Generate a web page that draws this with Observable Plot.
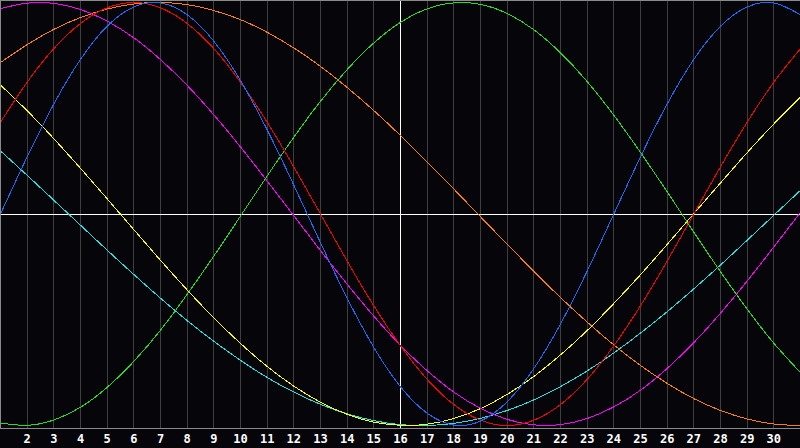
<!DOCTYPE html>
<html>
<head>
<meta charset="utf-8">
<script src="https://cdn.jsdelivr.net/npm/d3@7"></script>
<script src="https://cdn.jsdelivr.net/npm/@observablehq/plot@0.6"></script>
<style>
  html, body { margin: 0; padding: 0; background: #060509; }
  svg { display: block; }
</style>
</head>
<body>
<div id="chart"></div>
<script>
const days = d3.range(1, 32);
const tickDays = d3.range(2, 31);
const today = 16;

const physical = [0, 0.270, 0.520, 0.731, 0.888, 0.979, 0.998, 0.942, 0.817, 0.631, 0.398, 0.136, -0.136, -0.398, -0.631, -0.817, -0.942, -0.998, -0.979, -0.888, -0.731, -0.520, -0.270, 0, 0.270, 0.520, 0.731, 0.888, 0.979, 0.998, 0.942];
const emotional = [0.434, 0.623, 0.782, 0.901, 0.975, 1, 0.975, 0.901, 0.782, 0.623, 0.434, 0.223, 0, -0.223, -0.434, -0.623, -0.782, -0.901, -0.975, -1, -0.975, -0.901, -0.782, -0.623, -0.434, -0.223, 0, 0.223, 0.434, 0.623, 0.782];
const intellectual = [-0.988, -0.999, -0.974, -0.914, -0.820, -0.697, -0.549, -0.380, -0.199, -0.010, 0.180, 0.363, 0.533, 0.683, 0.809, 0.906, 0.970, 0.998, 0.991, 0.948, 0.871, 0.762, 0.626, 0.467, 0.291, 0.105, -0.086, -0.273, -0.450, -0.611, -0.750];
const intuitive = [0.610, 0.488, 0.356, 0.216, 0.072, -0.074, -0.219, -0.359, -0.491, -0.612, -0.721, -0.814, -0.890, -0.947, -0.984, -0.999, -0.994, -0.967, -0.920, -0.853, -0.768, -0.666, -0.551, -0.423, -0.287, -0.144, 0.002, 0.147, 0.290, 0.426, 0.553];
const spiritual = [0.298, 0.183, 0.065, -0.053, -0.171, -0.286, -0.398, -0.504, -0.602, -0.692, -0.773, -0.842, -0.900, -0.945, -0.977, -0.996, -1.000, -0.990, -0.966, -0.929, -0.879, -0.816, -0.742, -0.657, -0.563, -0.462, -0.354, -0.241, -0.124, -0.006, 0.112];
const awareness = [0.971, 0.997, 0.996, 0.967, 0.912, 0.833, 0.730, 0.608, 0.469, 0.317, 0.156, -0.008, -0.173, -0.332, -0.483, -0.621, -0.741, -0.842, -0.919, -0.971, -0.997, -0.996, -0.967, -0.912, -0.833, -0.730, -0.608, -0.469, -0.317, -0.156, 0.008];
const aesthetic = [0.716, 0.801, 0.873, 0.929, 0.969, 0.993, 1.000, 0.990, 0.962, 0.919, 0.859, 0.785, 0.698, 0.598, 0.489, 0.371, 0.246, 0.118, -0.013, -0.143, -0.271, -0.395, -0.511, -0.619, -0.716, -0.801, -0.873, -0.929, -0.969, -0.993, -1.000];

const seriesNames = ["aesthetic", "spiritual", "intuitive", "awareness", "intellectual", "emotional", "physical"];
const seriesValues = [aesthetic, spiritual, intuitive, awareness, intellectual, emotional, physical];
const seriesColors = ["#ff8000", "#1ee6e6", "#ffff00", "#ff00ff", "#22e022", "#ff0000", "#1a6cff"];

const rows = [];
seriesNames.forEach((name, i) => {
  days.forEach((d, j) => rows.push({series: name, day: d, value: seriesValues[i][j]}));
});

const grid = "#3e3e3e";

const chart = Plot.plot({
  width: 800,
  height: 448,
  marginLeft: 0,
  marginRight: 0,
  marginTop: 2,
  marginBottom: 23,
  style: {background: "#060509", color: "white", fontFamily: "DejaVu Sans Mono", fontSize: "12px", fontWeight: "bold"},
  x: {domain: [1, 31], axis: null, label: null},
  y: {domain: [-1, 1], axis: null},
  color: {domain: seriesNames, range: seriesColors},
  marks: [
    Plot.ruleX(tickDays, {stroke: grid, strokeWidth: 1, insetTop: -2, insetBottom: -3, shapeRendering: "crispEdges"}),
    Plot.ruleY([0], {stroke: "white", strokeWidth: 1, shapeRendering: "crispEdges"}),
    Plot.ruleX([today], {stroke: "white", strokeWidth: 1.5, insetTop: -2, insetBottom: -3, shapeRendering: "crispEdges"}),
    Plot.line(rows, {x: "day", y: "value", z: "series", stroke: "series", strokeWidth: 1, curve: "natural", shapeRendering: "crispEdges"}),
    Plot.frame({stroke: "#8a8a8a", insetTop: -2, insetBottom: -3, shapeRendering: "crispEdges"}),
    Plot.axisX(tickDays, {label: null, tickSize: 0, tickPadding: 9, fill: "white", fontWeight: "bold", fontSize: 12, fontFamily: "DejaVu Sans Mono", tickFormat: d => String(d)})
  ]
});

document.getElementById("chart").appendChild(chart);
</script>
</body>
</html>
